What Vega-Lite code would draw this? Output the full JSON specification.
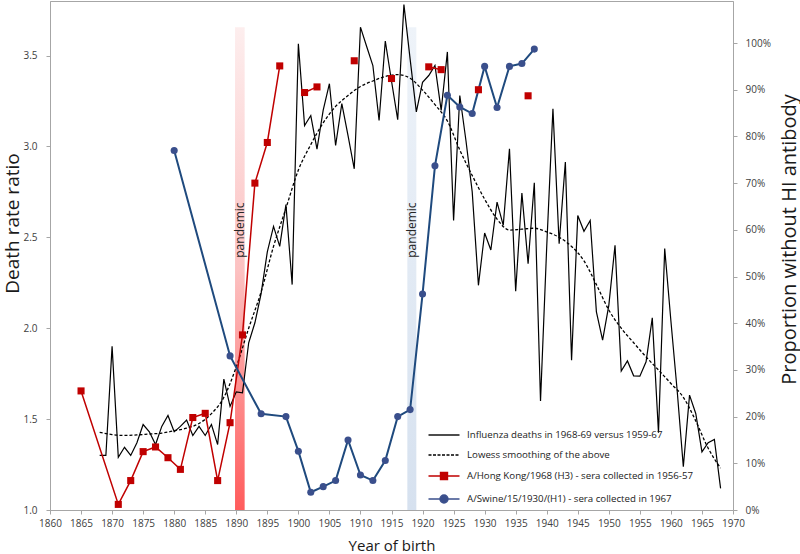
{
  "$schema": "https://vega.github.io/schema/vega-lite/v6.json",
  "width": 683,
  "height": 509,
  "autosize": "none",
  "padding": {"left": 50, "top": 1, "right": 67, "bottom": 44},
  "config": {
    "font": "Open Sans",
    "view": {"stroke": "#a6a6a6", "strokeWidth": 1},
    "axis": {
      "grid": false,
      "domainColor": "#a6a6a6",
      "tickColor": "#a6a6a6",
      "tickSize": 4,
      "labelFont": "Open Sans",
      "labelFontSize": 10,
      "labelColor": "#404040",
      "titleFont": "Open Sans",
      "titleFontWeight": "normal",
      "titleColor": "#1a1a1a"
    },
    "legend": {"labelFont": "Open Sans", "labelFontSize": 9.7, "labelColor": "#1a1a1a", "labelLimit": 0}
  },
  "datasets": {
    "deaths": [
      {"year": 1868, "ratio": 1.30}, {"year": 1869, "ratio": 1.30}, {"year": 1870, "ratio": 1.90},
      {"year": 1871, "ratio": 1.29}, {"year": 1872, "ratio": 1.345}, {"year": 1873, "ratio": 1.30},
      {"year": 1874, "ratio": 1.37}, {"year": 1875, "ratio": 1.47}, {"year": 1876, "ratio": 1.43},
      {"year": 1877, "ratio": 1.36}, {"year": 1878, "ratio": 1.46}, {"year": 1879, "ratio": 1.52},
      {"year": 1880, "ratio": 1.43}, {"year": 1881, "ratio": 1.46}, {"year": 1882, "ratio": 1.495},
      {"year": 1883, "ratio": 1.41}, {"year": 1884, "ratio": 1.46}, {"year": 1885, "ratio": 1.41},
      {"year": 1886, "ratio": 1.47}, {"year": 1887, "ratio": 1.36}, {"year": 1888, "ratio": 1.72},
      {"year": 1889, "ratio": 1.57}, {"year": 1890, "ratio": 1.65}, {"year": 1891, "ratio": 1.645},
      {"year": 1892, "ratio": 1.92}, {"year": 1893, "ratio": 2.03}, {"year": 1894, "ratio": 2.19},
      {"year": 1895, "ratio": 2.42}, {"year": 1896, "ratio": 2.56}, {"year": 1897, "ratio": 2.45},
      {"year": 1898, "ratio": 2.68}, {"year": 1899, "ratio": 2.24}, {"year": 1900, "ratio": 3.565},
      {"year": 1901, "ratio": 3.115}, {"year": 1902, "ratio": 3.17}, {"year": 1903, "ratio": 2.985},
      {"year": 1904, "ratio": 3.20}, {"year": 1905, "ratio": 3.345}, {"year": 1906, "ratio": 3.005},
      {"year": 1907, "ratio": 3.235}, {"year": 1908, "ratio": 3.06}, {"year": 1909, "ratio": 2.877},
      {"year": 1910, "ratio": 3.656}, {"year": 1911, "ratio": 3.55}, {"year": 1912, "ratio": 3.445},
      {"year": 1913, "ratio": 3.143}, {"year": 1914, "ratio": 3.58}, {"year": 1915, "ratio": 3.36},
      {"year": 1916, "ratio": 3.147}, {"year": 1917, "ratio": 3.78}, {"year": 1918, "ratio": 3.48},
      {"year": 1919, "ratio": 3.19}, {"year": 1920, "ratio": 3.353}, {"year": 1921, "ratio": 3.39},
      {"year": 1922, "ratio": 3.445}, {"year": 1923, "ratio": 3.198}, {"year": 1924, "ratio": 3.52},
      {"year": 1925, "ratio": 2.593}, {"year": 1926, "ratio": 3.28}, {"year": 1927, "ratio": 3.03},
      {"year": 1928, "ratio": 2.75}, {"year": 1929, "ratio": 2.236}, {"year": 1930, "ratio": 2.524},
      {"year": 1931, "ratio": 2.43}, {"year": 1932, "ratio": 2.694}, {"year": 1933, "ratio": 2.566},
      {"year": 1934, "ratio": 2.987}, {"year": 1935, "ratio": 2.203}, {"year": 1936, "ratio": 2.743},
      {"year": 1937, "ratio": 2.355}, {"year": 1938, "ratio": 2.80}, {"year": 1939, "ratio": 1.60},
      {"year": 1940, "ratio": 2.45}, {"year": 1941, "ratio": 3.207}, {"year": 1942, "ratio": 2.465},
      {"year": 1943, "ratio": 2.914}, {"year": 1944, "ratio": 1.824}, {"year": 1945, "ratio": 2.62},
      {"year": 1946, "ratio": 2.533}, {"year": 1947, "ratio": 2.593}, {"year": 1948, "ratio": 2.09},
      {"year": 1949, "ratio": 1.934}, {"year": 1950, "ratio": 2.126}, {"year": 1951, "ratio": 2.456},
      {"year": 1952, "ratio": 1.764}, {"year": 1953, "ratio": 1.82}, {"year": 1954, "ratio": 1.738},
      {"year": 1955, "ratio": 1.736}, {"year": 1956, "ratio": 1.815}, {"year": 1957, "ratio": 2.057},
      {"year": 1958, "ratio": 1.425}, {"year": 1959, "ratio": 2.438}, {"year": 1960, "ratio": 2.04},
      {"year": 1961, "ratio": 1.66}, {"year": 1962, "ratio": 1.238}, {"year": 1963, "ratio": 1.632},
      {"year": 1964, "ratio": 1.531}, {"year": 1965, "ratio": 1.32}, {"year": 1966, "ratio": 1.37},
      {"year": 1967, "ratio": 1.388}, {"year": 1968, "ratio": 1.119}
    ],
    "lowess": [
      {"year": 1868, "ratio": 1.427}, {"year": 1870, "ratio": 1.415}, {"year": 1872, "ratio": 1.41},
      {"year": 1874, "ratio": 1.413}, {"year": 1876, "ratio": 1.418}, {"year": 1878, "ratio": 1.423},
      {"year": 1880, "ratio": 1.436}, {"year": 1882, "ratio": 1.45}, {"year": 1884, "ratio": 1.476},
      {"year": 1886, "ratio": 1.53}, {"year": 1888, "ratio": 1.62}, {"year": 1890, "ratio": 1.787},
      {"year": 1892, "ratio": 2.0}, {"year": 1894, "ratio": 2.2}, {"year": 1896, "ratio": 2.45},
      {"year": 1898, "ratio": 2.66}, {"year": 1900, "ratio": 2.87}, {"year": 1902, "ratio": 3.01},
      {"year": 1904, "ratio": 3.13}, {"year": 1906, "ratio": 3.22}, {"year": 1908, "ratio": 3.28},
      {"year": 1910, "ratio": 3.33}, {"year": 1912, "ratio": 3.36}, {"year": 1914, "ratio": 3.385},
      {"year": 1916, "ratio": 3.395}, {"year": 1918, "ratio": 3.375}, {"year": 1920, "ratio": 3.31},
      {"year": 1922, "ratio": 3.23}, {"year": 1924, "ratio": 3.14}, {"year": 1926, "ratio": 2.98},
      {"year": 1928, "ratio": 2.84}, {"year": 1930, "ratio": 2.71}, {"year": 1932, "ratio": 2.6},
      {"year": 1934, "ratio": 2.54}, {"year": 1936, "ratio": 2.545}, {"year": 1938, "ratio": 2.55},
      {"year": 1940, "ratio": 2.53}, {"year": 1942, "ratio": 2.5}, {"year": 1944, "ratio": 2.45},
      {"year": 1946, "ratio": 2.37}, {"year": 1948, "ratio": 2.24}, {"year": 1950, "ratio": 2.1},
      {"year": 1952, "ratio": 2.0}, {"year": 1954, "ratio": 1.92}, {"year": 1956, "ratio": 1.842},
      {"year": 1958, "ratio": 1.77}, {"year": 1960, "ratio": 1.696}, {"year": 1962, "ratio": 1.62},
      {"year": 1964, "ratio": 1.49}, {"year": 1966, "ratio": 1.34}, {"year": 1968, "ratio": 1.23}
    ],
    "sera": [
      {"series": "H3", "run": 1, "year": 1865, "prop": 0.255},
      {"series": "H3", "run": 1, "year": 1871, "prop": 0.012},
      {"series": "H3", "run": 1, "year": 1873, "prop": 0.063},
      {"series": "H3", "run": 1, "year": 1875, "prop": 0.125},
      {"series": "H3", "run": 1, "year": 1877, "prop": 0.135},
      {"series": "H3", "run": 1, "year": 1879, "prop": 0.112},
      {"series": "H3", "run": 1, "year": 1881, "prop": 0.087},
      {"series": "H3", "run": 1, "year": 1883, "prop": 0.198},
      {"series": "H3", "run": 1, "year": 1885, "prop": 0.207},
      {"series": "H3", "run": 1, "year": 1887, "prop": 0.063},
      {"series": "H3", "run": 1, "year": 1889, "prop": 0.187},
      {"series": "H3", "run": 1, "year": 1891, "prop": 0.375},
      {"series": "H3", "run": 1, "year": 1893, "prop": 0.70},
      {"series": "H3", "run": 1, "year": 1895, "prop": 0.787},
      {"series": "H3", "run": 1, "year": 1897, "prop": 0.951},
      {"series": "H3", "run": 2, "year": 1901, "prop": 0.894},
      {"series": "H3", "run": 2, "year": 1903, "prop": 0.906},
      {"series": "H3", "run": 3, "year": 1909, "prop": 0.962},
      {"series": "H3", "run": 4, "year": 1915, "prop": 0.924},
      {"series": "H3", "run": 5, "year": 1921, "prop": 0.949},
      {"series": "H3", "run": 5, "year": 1923, "prop": 0.943},
      {"series": "H3", "run": 6, "year": 1929, "prop": 0.90},
      {"series": "H3", "run": 7, "year": 1937, "prop": 0.887},
      {"series": "H1", "run": 1, "year": 1880, "prop": 0.770},
      {"series": "H1", "run": 1, "year": 1889, "prop": 0.330},
      {"series": "H1", "run": 1, "year": 1894, "prop": 0.206},
      {"series": "H1", "run": 1, "year": 1898, "prop": 0.200},
      {"series": "H1", "run": 1, "year": 1900, "prop": 0.126},
      {"series": "H1", "run": 1, "year": 1902, "prop": 0.038},
      {"series": "H1", "run": 1, "year": 1904, "prop": 0.050},
      {"series": "H1", "run": 1, "year": 1906, "prop": 0.063},
      {"series": "H1", "run": 1, "year": 1908, "prop": 0.150},
      {"series": "H1", "run": 1, "year": 1910, "prop": 0.075},
      {"series": "H1", "run": 1, "year": 1912, "prop": 0.063},
      {"series": "H1", "run": 1, "year": 1914, "prop": 0.106},
      {"series": "H1", "run": 1, "year": 1916, "prop": 0.200},
      {"series": "H1", "run": 1, "year": 1918, "prop": 0.215},
      {"series": "H1", "run": 1, "year": 1920, "prop": 0.4625},
      {"series": "H1", "run": 1, "year": 1922, "prop": 0.737},
      {"series": "H1", "run": 1, "year": 1924, "prop": 0.888},
      {"series": "H1", "run": 1, "year": 1926, "prop": 0.863},
      {"series": "H1", "run": 1, "year": 1928, "prop": 0.849},
      {"series": "H1", "run": 1, "year": 1930, "prop": 0.950},
      {"series": "H1", "run": 1, "year": 1932, "prop": 0.862},
      {"series": "H1", "run": 1, "year": 1934, "prop": 0.950},
      {"series": "H1", "run": 1, "year": 1936, "prop": 0.956},
      {"series": "H1", "run": 1, "year": 1938, "prop": 0.987}
    ],
    "bands": [
      {"strain": "H3", "start": 1889.8, "end": 1891.35, "low": 1, "high": 3.655, "label": "pandemic"},
      {"strain": "H1", "start": 1917.55, "end": 1919.0, "low": 1, "high": 3.655, "label": "pandemic"}
    ]
  },
  "encoding": {
    "x": {
      "field": "year",
      "type": "quantitative",
      "title": "Year of birth",
      "scale": {"domain": [1860, 1970], "nice": false, "zero": false},
      "axis": {
        "values": [1860, 1865, 1870, 1875, 1880, 1885, 1890, 1895, 1900, 1905, 1910, 1915, 1920, 1925, 1930, 1935, 1940, 1945, 1950, 1955, 1960, 1965, 1970],
        "format": "d",
        "labelPadding": 4,
        "labelFlush": false,
        "titleFontSize": 15,
        "titleY": 35,
        "titleBaseline": "middle"
      }
    }
  },
  "layer": [
    {
      "layer": [
        {
          "data": {"name": "bands"},
          "transform": [{"filter": "datum.strain === 'H3'"}],
          "mark": {
            "type": "rect",
            "fill": {
              "gradient": "linear", "x1": 0, "y1": 0, "x2": 0, "y2": 1,
              "stops": [
                {"offset": 0, "color": "#fdeeee"},
                {"offset": 0.5, "color": "#fcc2c2"},
                {"offset": 1, "color": "#ff5c5c"}
              ]
            }
          },
          "encoding": {
            "x": {"field": "start", "type": "quantitative", "title": "Year of birth", "scale": {"domain": [1860, 1970], "nice": false, "zero": false}},
            "x2": {"field": "end"},
            "y": {"field": "high", "type": "quantitative", "title": "Death rate ratio", "scale": {"domain": [1, 3.8], "nice": false, "zero": false}},
            "y2": {"field": "low"}
          }
        },
        {
          "data": {"name": "bands"},
          "transform": [{"filter": "datum.strain === 'H1'"}],
          "mark": {
            "type": "rect",
            "fill": {
              "gradient": "linear", "x1": 0, "y1": 0, "x2": 0, "y2": 1,
              "stops": [
                {"offset": 0, "color": "#eef3f9"},
                {"offset": 1, "color": "#d6e1ef"}
              ]
            }
          },
          "encoding": {
            "x": {"field": "start", "type": "quantitative", "title": "Year of birth", "scale": {"domain": [1860, 1970], "nice": false, "zero": false}},
            "x2": {"field": "end"},
            "y": {"field": "high", "type": "quantitative", "title": "Death rate ratio", "scale": {"domain": [1, 3.8], "nice": false, "zero": false}},
            "y2": {"field": "low"}
          }
        },
        {
          "data": {"name": "bands"},
          "transform": [{"calculate": "(datum.start + datum.end) / 2", "as": "mid"}],
          "mark": {"type": "text", "angle": 270, "align": "center", "baseline": "middle", "font": "Open Sans", "fontSize": 12, "color": "#262626"},
          "encoding": {
            "x": {"field": "mid", "type": "quantitative", "title": "Year of birth", "scale": {"domain": [1860, 1970], "nice": false, "zero": false}},
            "y": {"datum": 2.54, "type": "quantitative", "scale": {"domain": [1, 3.8], "nice": false, "zero": false}},
            "text": {"field": "label"}
          }
        },
        {
          "data": {"name": "deaths"},
          "mark": {"type": "line", "color": "#000000", "strokeWidth": 1.2},
          "encoding": {
            "y": {
              "field": "ratio",
              "type": "quantitative",
              "title": "Death rate ratio",
              "scale": {"domain": [1, 3.8], "nice": false, "zero": false},
              "axis": {
                "orient": "left",
                "values": [1, 1.5, 2, 2.5, 3, 3.5],
                "format": ".1f",
                "labelPadding": 9,
                "titleFontSize": 19,
                "titleX": -38,
                "titleY": 222,
                "titleAngle": 270,
                "titleAlign": "center",
                "titleBaseline": "middle"
              }
            }
          }
        },
        {
          "data": {"name": "lowess"},
          "mark": {"type": "line", "color": "#000000", "strokeWidth": 1.3, "strokeDash": [3, 2], "interpolate": "monotone"},
          "encoding": {
            "y": {"field": "ratio", "type": "quantitative", "title": "Death rate ratio", "scale": {"domain": [1, 3.8], "nice": false, "zero": false}}
          }
        }
      ]
    },
    {
      "data": {"name": "sera"},
      "encoding": {
        "y": {
          "field": "prop",
          "type": "quantitative",
          "title": "Proportion without HI antibody",
          "scale": {"domain": [0, 1.09], "nice": false, "zero": false},
          "axis": {
            "orient": "right",
            "values": [0, 0.1, 0.2, 0.3, 0.4, 0.5, 0.6, 0.7, 0.8, 0.9, 1],
            "format": ".0%",
            "labelPadding": 8,
            "titleFontSize": 20,
            "titleX": 56,
            "titleY": 238,
            "titleAngle": 270,
            "titleAlign": "center",
            "titleBaseline": "middle"
          }
        }
      },
      "layer": [
        {
          "transform": [{"filter": "datum.series === 'H3'"}],
          "mark": {"type": "line", "color": "#c00000", "strokeWidth": 1.5},
          "encoding": {"detail": {"field": "run", "type": "nominal"}}
        },
        {
          "transform": [{"filter": "datum.series === 'H1'"}],
          "mark": {"type": "line", "color": "#1f4a7e", "strokeWidth": 2},
          "encoding": {"detail": {"field": "run", "type": "nominal"}}
        },
        {
          "mark": {"type": "point", "filled": true, "opacity": 1, "size": 50},
          "encoding": {
            "shape": {
              "field": "series",
              "type": "nominal",
              "scale": {"domain": ["H3", "H1"], "range": ["square", "circle"]},
              "legend": null
            },
            "color": {
              "field": "series",
              "type": "nominal",
              "scale": {"domain": ["deaths", "lowess", "H3", "H1"], "range": ["#000000", "#000000", "#c00000", "#3a4f8c"]},
              "legend": {
                "title": null,
                "orient": "none",
                "legendX": 378,
                "legendY": 428,
                "symbolSize": 100,
                "symbolOffset": 10,
                "labelOffset": 17,
                "rowPadding": 9,
                "labelExpr": "datum.value === 'deaths' ? 'Influenza deaths in 1968-69 versus 1959-67' : datum.value === 'lowess' ? 'Lowess smoothing of the above' : datum.value === 'H3' ? 'A/Hong Kong/1968 (H3) - sera collected in 1956-57' : 'A/Swine/15/1930/(H1) - sera collected in 1967'",
                "encoding": {
                  "symbols": {
                    "shape": {"value": {"expr": "datum.value === 'deaths' ? 'M-3.1,0H3.1' : datum.value === 'lowess' ? 'M-3.1,0H-2.5M-2.2,0H-1.6M-1.3,0H-0.7M-0.4,0H0.2M0.5,0H1.1M1.4,0H2M2.3,0H2.9' : datum.value === 'H3' ? 'M-3.1,0H3.1M-0.7,-0.7H0.7V0.7H-0.7Z' : 'M-3.1,0H3.1M-0.8,0A0.8,0.8,0,1,0,0.8,0A0.8,0.8,0,1,0,-0.8,0Z'"}},
                    "stroke": {"value": {"expr": "scale('color', datum.value)"}},
                    "fill": {"value": {"expr": "scale('color', datum.value)"}},
                    "strokeWidth": {"value": 1.4},
                    "opacity": {"value": 1}
                  }
                }
              }
            }
          }
        }
      ]
    }
  ],
  "resolve": {"scale": {"y": "independent"}}
}
